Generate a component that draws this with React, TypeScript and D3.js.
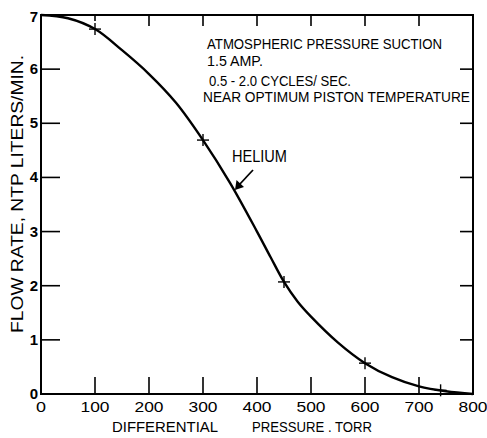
import React from "react";
import * as d3 from "d3";

const curveX = [0, 50, 100, 150, 200, 250, 300, 350, 400, 425, 450, 475, 500, 550, 600, 650, 700, 750, 800];
const curveY = [7.0, 6.94, 6.74, 6.35, 5.91, 5.38, 4.69, 3.9, 3.0, 2.53, 2.07, 1.71, 1.43, 0.95, 0.57, 0.31, 0.14, 0.05, 0.0];
const markerX = [100, 300, 450, 600, 740];
const xTicks = [0, 100, 200, 300, 400, 500, 600, 700, 800];
const yTicks = [0, 1, 2, 3, 4, 5, 6, 7];
const notes = [
  "ATMOSPHERIC PRESSURE SUCTION",
  "1.5 AMP.",
  "0.5 - 2.0 CYCLES/ SEC.",
  "NEAR OPTIMUM PISTON TEMPERATURE",
];

export default function App() {
  const W = 487, H = 438;
  const x = d3.scaleLinear().domain([0, 800]).range([41, 473]);
  const y = d3.scaleLinear().domain([0, 7]).range([394, 15]);
  const pts: [number, number][] = curveX.map((v, i) => [v, curveY[i]]);
  const line = d3.line<[number, number]>().x(d => x(d[0])).y(d => y(d[1])).curve(d3.curveCatmullRom.alpha(0.5));
  const interp = (v: number) => {
    const i = Math.min(curveX.length - 2, Math.max(0, d3.bisectRight(curveX, v) - 1));
    const t = (v - curveX[i]) / (curveX[i + 1] - curveX[i]);
    return curveY[i] + t * (curveY[i + 1] - curveY[i]);
  };
  const font = "'Liberation Sans', Arial, sans-serif";
  const noteLayout = [
    { yb: 49, len: 235 },
    { yb: 66, len: 56 },
    { yb: 86, len: 142 },
    { yb: 102, len: 267 },
  ];
  const noteX = [207, 207, 209, 203];
  return (
    <svg width={W} height={H} style={{ position: "absolute", left: 0, top: 0, background: "#fff" }}>
      <rect x={0} y={0} width={W} height={H} fill="#fff" />
      <rect x={x(0)} y={y(7)} width={x(800) - x(0)} height={y(0) - y(7)} fill="none" stroke="#000" strokeWidth={2} />
      {xTicks.slice(1, -1).map(t => (
        <line key={"bt" + t} x1={x(t)} x2={x(t)} y1={y(0)} y2={y(0) - 17} stroke="#000" strokeWidth={1.6} />
      ))}
      {xTicks.slice(1, -1).map(t => (
        <line key={"tt" + t} x1={x(t)} x2={x(t)} y1={y(7)} y2={y(7) + (t === 100 ? 6 : 11)} stroke="#000" strokeWidth={1.6} />
      ))}
      {yTicks.slice(1, -1).map(t => (
        <line key={"lt" + t} x1={x(0)} x2={x(0) + 19} y1={y(t)} y2={y(t)} stroke="#000" strokeWidth={1.6} />
      ))}
      {yTicks.slice(1, -1).map(t => (
        <line key={"rt" + t} x1={x(800)} x2={x(800) - 13} y1={y(t)} y2={y(t)} stroke="#000" strokeWidth={1.6} />
      ))}
      {xTicks.map(t => (
        <text key={"xl" + t} x={x(t)} y={412} textAnchor="middle" fontFamily={font} fontSize={15.5} fill="#000" textLength={t === 0 ? 10 : 29} lengthAdjust="spacingAndGlyphs">{t}</text>
      ))}
      {yTicks.map(t => (
        <text key={"yl" + t} x={38} y={y(t) + 5 + (t === 7 ? 2 : 0)} textAnchor="end" fontFamily={font} fontSize={15} fontWeight="bold" fill="#000">{t}</text>
      ))}
      <text x={112} y={432} fontFamily={font} fontSize={14.5} fill="#000" textLength={106} lengthAdjust="spacingAndGlyphs">DIFFERENTIAL</text>
      <text x={252} y={432} fontFamily={font} fontSize={14.5} fill="#000" textLength={120} lengthAdjust="spacingAndGlyphs">PRESSURE . TORR</text>
      <text transform={`translate(23,194) rotate(-90)`} textAnchor="middle" fontFamily={font} fontSize={16} fill="#000" textLength={278} lengthAdjust="spacingAndGlyphs">FLOW RATE, NTP LITERS/MIN.</text>
      <path d={line(pts) || ""} fill="none" stroke="#000" strokeWidth={2.4} />
      {markerX.map(m => (
        <g key={"m" + m} transform={`translate(${x(m)},${y(interp(m))})`}>
          <line x1={-6} x2={6} y1={0} y2={0} stroke="#000" strokeWidth={1.4} />
          <line x1={0} x2={0} y1={-6} y2={6} stroke="#000" strokeWidth={1.4} />
        </g>
      ))}
      {notes.map((n, i) => (
        <text key={"n" + i} x={noteX[i]} y={noteLayout[i].yb} fontFamily={font} fontSize={14} fill="#000" textLength={noteLayout[i].len} lengthAdjust="spacingAndGlyphs">{n}</text>
      ))}
      <text x={232} y={162} fontFamily={font} fontSize={16} fill="#000" textLength={55} lengthAdjust="spacingAndGlyphs">HELIUM</text>
      <line x1={253} y1={170} x2={239} y2={185} stroke="#000" strokeWidth={1.8} />
      <path d="M235,190 L236.5,180 L244,187 Z" fill="#000" />
    </svg>
  );
}
